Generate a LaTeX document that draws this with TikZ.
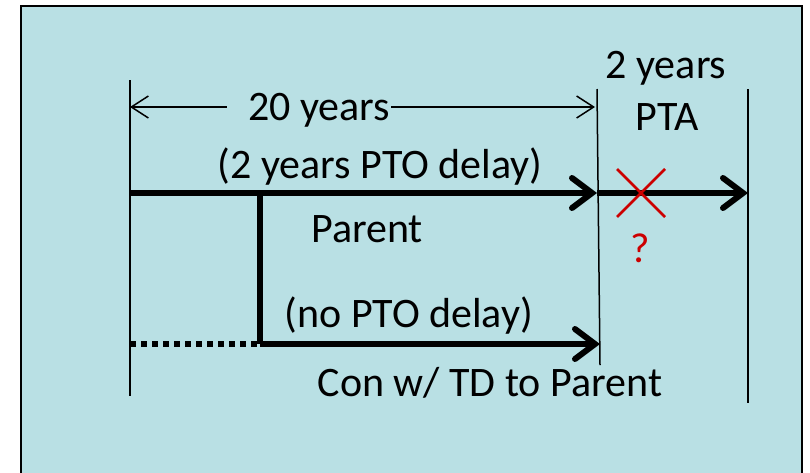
\documentclass[tikz,border=0pt]{standalone}
\usepackage{fontspec}
\setmainfont{Carlito}
\usetikzlibrary{arrows.meta,calc}
\definecolor{bgblue}{RGB}{185,224,228}
\definecolor{xred}{RGB}{204,0,0}
\tikzset{
  lbl/.style={anchor=base, inner sep=1pt, font=\fontsize{42}{50}\selectfont},
  thinline/.style={line width=1.5pt},
  dimarrow/.style={line width=1.5pt, -{Straight Barb[length=17pt,width=22pt]}},
  bigarrow/.style={line width=6pt, -{Straight Barb[length=20pt,width=30pt,line cap=round]}},
}
\begin{document}
\begin{tikzpicture}[x=1pt,y=-1pt]
	\useasboundingbox (0,0) rectangle (810,472);
	\draw[line width=2pt, fill=bgblue] (21,6) rectangle (802,490);
	% time marks
	\coordinate (L) at (130,80);  \coordinate (Lb) at (130,396);
	\coordinate (M) at (597,89);  \coordinate (Mb) at (600,365);
	\coordinate (R) at (748,89);  \coordinate (Rb) at (748,403);
	\draw[thinline] (L)--(Lb);
	\draw[thinline] (M)--(Mb);
	\draw[thinline] (R)--(Rb);
	% 20 year span
	\coordinate (D0) at (130,107); \coordinate (D1) at (595,107);
	\node[lbl] (twenty) at (319,120) {20 years};
	\draw[dimarrow] ([xshift=-20pt]twenty.west |- D0) -- (D0);
	\draw[dimarrow] (twenty.east |- D1) -- (D1);
	\node[lbl] (pta1) at (666,78) {2 years};
	\node[lbl] (pta2) at (667,130) {PTA};
	% parent
	\coordinate (P0) at (130,193); \coordinate (P1) at (597,193); \coordinate (P2) at (748,193);
	\draw[bigarrow] (P0)--(P1);
	\draw[bigarrow] (P1)--(P2);
	\node[lbl] (ptodelay) at (380,178) {(2 years PTO delay)};
	\node[lbl] (parent) at (367,242) {Parent};
	\coordinate (X) at (641,193);
	\draw[xred, line width=2.5pt] ($(X)+(-24,-24)$)--($(X)+(24,24)$) ($(X)+(-24,24)$)--($(X)+(24,-24)$);
	\node[lbl, text=xred] (qmark) at (640,262) {?};
	% continuation
	\coordinate (B0) at (260,193); \coordinate (B1) at (260,344);
	\coordinate (C0) at (130,344); \coordinate (C1) at (600,344);
	\draw[line width=6pt] (B0)--(B1);
	\draw[line width=6pt, dash pattern=on 6pt off 5pt] (C0)--(B1);
	\draw[bigarrow] (B1)--(C1);
	\node[lbl] (noptodelay) at (409,327) {(no PTO delay)};
	\node[lbl] (con) at (490,396) {Con w/ TD to Parent};
\end{tikzpicture}
\end{document}
